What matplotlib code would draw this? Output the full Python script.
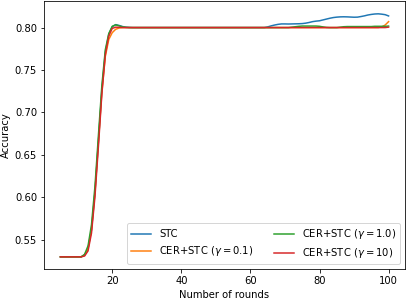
import matplotlib
matplotlib.use('Agg')
import matplotlib.pyplot as plt

rounds = [5, 8, 11, 12, 13, 14, 15, 16, 17, 18, 19, 20, 21, 22, 23, 24, 25, 26,
          30, 35, 40, 45, 50, 55, 60, 63,
          64, 65, 66, 67, 68, 69, 70, 71, 72, 73, 74, 75, 76, 77, 78, 79, 80, 81,
          82, 83, 84, 85, 86, 87, 88, 89, 90, 91, 92, 93, 94, 95, 96, 97, 98, 99, 100]

stc = [0.530, 0.530, 0.530, 0.532, 0.540, 0.562, 0.606, 0.666, 0.727, 0.771, 0.792, 0.801,
       0.8035, 0.8025, 0.8012, 0.8005, 0.8002, 0.800,
       0.800, 0.800, 0.800, 0.800, 0.800, 0.800, 0.800, 0.800,
       0.800, 0.8008, 0.802, 0.803, 0.8038, 0.8043, 0.8043, 0.8042, 0.8043, 0.8044, 0.8045,
       0.8047, 0.8052, 0.806, 0.807, 0.8076, 0.808, 0.809, 0.810, 0.811, 0.8118, 0.8123,
       0.8126, 0.8127, 0.8126, 0.8124, 0.8122, 0.8123, 0.813, 0.8138, 0.8148, 0.8155,
       0.816, 0.8162, 0.8158, 0.8152, 0.8137]

cer_01 = [0.530, 0.530, 0.530, 0.532, 0.540, 0.562, 0.606, 0.665, 0.724, 0.766, 0.786, 0.794,
          0.798, 0.7995, 0.800, 0.800, 0.800, 0.800,
          0.800, 0.800, 0.800, 0.800, 0.800, 0.800, 0.800, 0.800,
          0.800, 0.800, 0.800, 0.800, 0.800, 0.800, 0.800, 0.800, 0.800, 0.800, 0.800,
          0.800, 0.800, 0.800, 0.800, 0.800, 0.800, 0.800, 0.800, 0.800, 0.800, 0.800,
          0.800, 0.800, 0.800, 0.800, 0.800, 0.800, 0.800, 0.800, 0.800, 0.800,
          0.800, 0.800, 0.8008, 0.803, 0.807]

cer_1 = [0.530, 0.530, 0.530, 0.533, 0.543, 0.568, 0.613, 0.673, 0.732, 0.774, 0.793, 0.8015,
         0.8032, 0.802, 0.8008, 0.8002, 0.800, 0.800,
         0.800, 0.800, 0.800, 0.800, 0.800, 0.800, 0.800, 0.800,
         0.800, 0.800, 0.800, 0.800, 0.800, 0.800, 0.800, 0.800, 0.8005, 0.801, 0.8015,
         0.8018, 0.8018, 0.8018, 0.8018, 0.8018, 0.8015, 0.8008, 0.8002, 0.800, 0.800, 0.800,
         0.8005, 0.801, 0.8012, 0.8012, 0.8012, 0.8012, 0.8012, 0.8012, 0.8012, 0.8012,
         0.8015, 0.8015, 0.8015, 0.8015, 0.8018]

cer_10 = [0.530, 0.530, 0.530, 0.531, 0.537, 0.558, 0.601, 0.660, 0.722, 0.768, 0.790, 0.799,
          0.8005, 0.8003, 0.800, 0.800, 0.800, 0.800,
          0.800, 0.800, 0.800, 0.800, 0.800, 0.800, 0.800, 0.800,
          0.800, 0.800, 0.800, 0.800, 0.800, 0.800, 0.800, 0.800, 0.800, 0.800, 0.800,
          0.800, 0.800, 0.800, 0.800, 0.800, 0.800, 0.800, 0.800, 0.800, 0.800, 0.800,
          0.800, 0.800, 0.800, 0.800, 0.800, 0.800, 0.800, 0.800, 0.800, 0.800,
          0.800, 0.800, 0.800, 0.800, 0.8005]

LABELS = ['STC', r'CER+STC ($\gamma=0.1$)', r'CER+STC ($\gamma=1.0$)', r'CER+STC ($\gamma=10$)']
SERIES = [stc, cer_01, cer_1, cer_10]
COLOR = ['tab:blue', 'tab:orange', 'tab:green', 'tab:red']

fig = plt.figure(figsize=(407 / 72, 300 / 72), dpi=72)
ax = fig.add_axes([44 / 407, 31 / 300, 361 / 407, 268 / 300])

for values, label, c in zip(SERIES, LABELS, COLOR):
    ax.plot(rounds, values, label=label, color=c)

ax.set_xlim(0.25, 104.75)
ax.set_ylim(0.5157, 0.8313)
ax.set_xticks([20, 40, 60, 80, 100])
ax.set_yticks([0.55, 0.60, 0.65, 0.70, 0.75, 0.80])
ax.set_xlabel('Number of rounds')
ax.set_ylabel('Accuracy')
ax.legend(loc='lower right', ncol=2)

fig.savefig('out.png', dpi=72)
